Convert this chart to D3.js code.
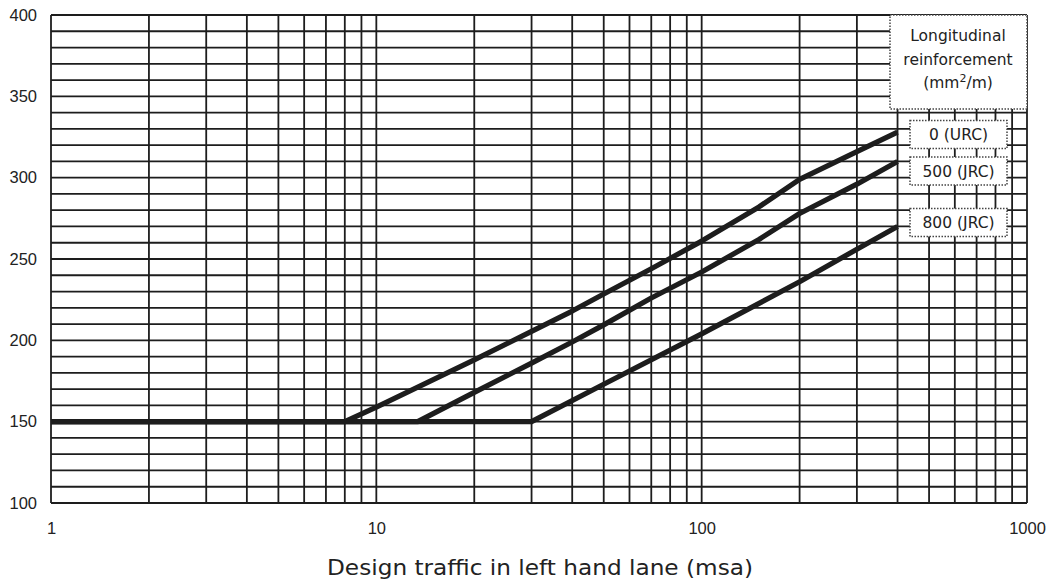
<!DOCTYPE html>
<html>
<head>
<meta charset="utf-8">
<script src="https://cdn.jsdelivr.net/npm/d3@7/dist/d3.min.js"></script>
<style>
  html, body { margin: 0; padding: 0; background: #fff; }
  svg { display: block; }
  text { font-family: "Liberation Sans", Arial, sans-serif; fill: #222; }
  text.wide, .wide text { font-family: "DejaVu Sans", Verdana, sans-serif; }
</style>
</head>
<body>
<svg id="chart" width="1058" height="583"></svg>
<script>
// Design traffic (msa) vs. slab thickness (mm) for three reinforcement levels
const urcTraffic = [1, 8, 10, 20, 30, 40, 50, 70, 100, 150, 200, 300, 400];
const urcThickness = [150, 150, 159, 188, 205.5, 218, 228.5, 244, 261, 282, 299, 316, 328];

const jrc500Traffic = [1, 13.4, 20, 30, 40, 50, 70, 100, 150, 200, 300, 400];
const jrc500Thickness = [150, 150, 168, 186, 199, 209.5, 226, 242, 262, 278, 296, 310];

const jrc800Traffic = [1, 30, 50, 100, 200, 300, 400];
const jrc800Thickness = [150, 150, 173, 204, 236, 256, 270];

const seriesLabels = ["0 (URC)", "500 (JRC)", "800 (JRC)"];
const legendTitle = ["Longitudinal", "reinforcement"];

const xTickLabels = [1, 10, 100, 1000];
const yTickLabels = [100, 150, 200, 250, 300, 350, 400];
const xAxisTitle = "Design traffic in left hand lane (msa)";

const svg = d3.select("#chart");
const plotLeft = 51, plotRight = 1027, plotTop = 15, plotBottom = 503;

const x = d3.scaleLog().domain([1, 1000]).range([plotLeft, plotRight]);
const y = d3.scaleLinear().domain([100, 400]).range([plotBottom, plotTop]);

const ink = "#1d1d1d";

// Grid: every integer step within each decade, every 10 mm
const xGrid = [];
for (let d = 1; d < 1000; d *= 10) for (let k = 1; k <= 9; k++) xGrid.push(k * d);
xGrid.push(1000);
const yGrid = d3.range(100, 401, 10);

const grid = svg.append("g");
grid.selectAll("line.v").data(xGrid).join("line").attr("class", "v")
  .attr("x1", d => x(d)).attr("x2", d => x(d))
  .attr("y1", plotTop).attr("y2", plotBottom)
  .attr("stroke", ink).attr("stroke-width", 1.8);
grid.selectAll("line.h").data(yGrid).join("line").attr("class", "h")
  .attr("x1", plotLeft).attr("x2", plotRight)
  .attr("y1", d => y(d)).attr("y2", d => y(d))
  .attr("stroke", ink).attr("stroke-width", 1.8);

// Axes (labels only, the grid acts as ticks)
const xAxis = d3.axisBottom(x).tickValues(xTickLabels).tickFormat(d3.format("d")).tickSize(0).tickPadding(19);
svg.append("g").attr("transform", `translate(0,${plotBottom})`).call(xAxis)
  .call(g => g.select(".domain").remove())
  .selectAll("text").style("font-size", "16.5px").attr("fill", "#222")
  .style("font-family", '"Liberation Sans", Arial, sans-serif');

const yAxis = d3.axisLeft(y).tickValues(yTickLabels).tickSize(0).tickPadding(14);
svg.append("g").attr("transform", `translate(${plotLeft},0)`).call(yAxis)
  .call(g => g.select(".domain").remove())
  .selectAll("text").style("font-size", "16.5px").attr("fill", "#222")
  .style("font-family", '"Liberation Sans", Arial, sans-serif');

svg.append("text").attr("class", "wide")
  .attr("x", 540).attr("y", 575)
  .attr("text-anchor", "middle")
  .attr("textLength", 426)
  .attr("lengthAdjust", "spacingAndGlyphs")
  .style("font-size", "21px")
  .text(xAxisTitle);

// Design curves
const line = d3.line().x(d => x(d[0])).y(d => y(d[1]));
const series = [
  d3.zip(urcTraffic, urcThickness),
  d3.zip(jrc500Traffic, jrc500Thickness),
  d3.zip(jrc800Traffic, jrc800Thickness)
];
svg.append("g").selectAll("path").data(series).join("path")
  .attr("d", line)
  .attr("fill", "none")
  .attr("stroke", ink)
  .attr("stroke-width", 5.2)
  .attr("stroke-linejoin", "round");

// Legend title box
const boxStyle = sel => sel
  .attr("fill", "#fff")
  .attr("stroke", "#444")
  .attr("stroke-width", 1.5)
  .attr("stroke-dasharray", "1.5,1.5");

svg.append("rect").attr("x", 890).attr("y", plotTop).attr("width", plotRight - 890).attr("height", 94).call(boxStyle);
const lt = svg.append("g").attr("class", "wide").style("font-size", "15.5px");
lt.selectAll("text").data(legendTitle).join("text")
  .attr("x", 958).attr("y", (d, i) => 41 + i * 23.5)
  .attr("text-anchor", "middle")
  .text(d => d);
const unit = lt.append("text").attr("x", 958).attr("y", 88).attr("text-anchor", "middle");
unit.append("tspan").text("(mm");
unit.append("tspan").attr("dy", -6).style("font-size", "11px").text("2");
unit.append("tspan").attr("dy", 6).text("/m)");

// Series labels next to line ends
const labelCentres = [134.5, 171, 222.5];
const lg = svg.append("g").attr("class", "wide").style("font-size", "15.5px");
seriesLabels.forEach((t, i) => {
  lg.append("rect").attr("x", 910).attr("y", labelCentres[i] - 14)
    .attr("width", 97).attr("height", 28).call(boxStyle);
  lg.append("text").attr("x", 958.5).attr("y", labelCentres[i] + 5.5)
    .attr("text-anchor", "middle").text(t);
});
</script>
</body>
</html>
